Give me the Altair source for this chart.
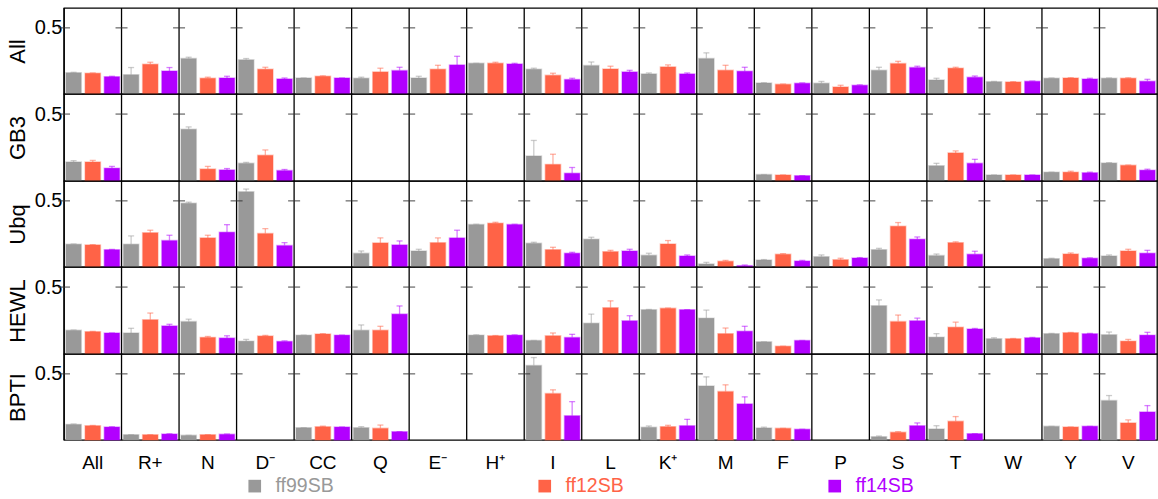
import altair as alt
import pandas as pd

residues = ["All", "R+", "N", "D⁻", "CC", "Q", "E⁻", "H⁺", "I", "L", "K⁺",
            "M", "F", "P", "S", "T", "W", "Y", "V"]
proteins = ["All", "GB3", "Ubq", "HEWL", "BPTI"]
forcefields = ["ff99SB", "ff12SB", "ff14SB"]
colors = ["#999999", "#ff6347", "#b200ff"]
N = None

# ---- row "All"
all_ff99 = [0.161, 0.146, 0.268, 0.258, 0.121, 0.119, 0.121, 0.232, 0.187, 0.215, 0.152, 0.268, 0.083, 0.081, 0.179, 0.106, 0.093, 0.119, 0.119]
all_ff99_err = [0.003, 0.054, 0.010, 0.010, 0.0, 0.008, 0.013, 0.0, 0.008, 0.027, 0.007, 0.043, 0.002, 0.014, 0.023, 0.013, 0.002, 0.002, 0.002]
all_ff12 = [0.157, 0.225, 0.119, 0.187, 0.134, 0.167, 0.187, 0.232, 0.141, 0.189, 0.205, 0.179, 0.073, 0.053, 0.230, 0.195, 0.091, 0.121, 0.119]
all_ff12_err = [0.002, 0.015, 0.008, 0.015, 0.003, 0.028, 0.030, 0.008, 0.016, 0.021, 0.015, 0.038, 0.002, 0.013, 0.017, 0.007, 0.002, 0.002, 0.003]
all_ff14 = [0.131, 0.174, 0.121, 0.114, 0.121, 0.177, 0.220, 0.227, 0.109, 0.167, 0.152, 0.172, 0.081, 0.066, 0.200, 0.126, 0.096, 0.114, 0.096]
all_ff14_err = [0.003, 0.026, 0.013, 0.007, 0.0, 0.025, 0.065, 0.005, 0.010, 0.012, 0.007, 0.030, 0.003, 0.003, 0.010, 0.010, 0.002, 0.005, 0.015]

# ---- row "GB3"
gb3_ff99 = [0.142, N, 0.386, 0.132, N, N, N, N, 0.187, N, N, N, 0.048, N, N, 0.114, 0.045, 0.066, 0.134]
gb3_ff99_err = [0.010, N, 0.018, 0.007, N, N, N, N, 0.116, N, N, N, 0.0, N, N, 0.018, 0.0, 0.0, 0.003]
gb3_ff12 = [0.142, N, 0.089, 0.192, N, N, N, N, 0.124, N, N, N, 0.045, N, N, 0.210, 0.045, 0.066, 0.117]
gb3_ff12_err = [0.012, N, 0.020, 0.040, N, N, N, N, 0.076, N, N, N, 0.0, N, N, 0.015, 0.0, 0.007, 0.002]
gb3_ff14 = [0.096, N, 0.083, 0.078, N, N, N, N, 0.058, N, N, N, 0.040, N, N, 0.132, 0.045, 0.061, 0.081]
gb3_ff14_err = [0.013, N, 0.010, 0.008, N, N, N, N, 0.043, N, N, N, 0.0, N, N, 0.030, 0.0, 0.005, 0.007]

# ---- row "Ubq"
ubq_ff99 = [0.172, 0.172, 0.482, 0.568, N, 0.103, 0.121, 0.321, 0.179, 0.210, 0.088, 0.023, 0.053, 0.078, 0.131, 0.086, N, 0.063, 0.083]
ubq_ff99_err = [0.002, 0.063, 0.008, 0.021, N, 0.018, 0.013, 0.002, 0.008, 0.015, 0.016, 0.012, 0.003, 0.013, 0.010, 0.012, N, 0.003, 0.008]
ubq_ff12 = [0.167, 0.258, 0.220, 0.253, N, 0.182, 0.184, 0.331, 0.131, 0.116, 0.174, 0.043, 0.096, 0.055, 0.308, 0.184, N, 0.098, 0.121]
ubq_ff12_err = [0.002, 0.020, 0.020, 0.037, N, 0.038, 0.036, 0.007, 0.018, 0.010, 0.026, 0.007, 0.005, 0.011, 0.028, 0.006, N, 0.008, 0.013]
ubq_ff14 = [0.131, 0.200, 0.263, 0.162, N, 0.167, 0.220, 0.321, 0.104, 0.121, 0.083, 0.010, 0.045, 0.068, 0.210, 0.096, N, 0.066, 0.104]
ubq_ff14_err = [0.002, 0.040, 0.057, 0.022, N, 0.030, 0.058, 0.002, 0.007, 0.013, 0.008, 0.005, 0.005, 0.003, 0.017, 0.023, N, 0.003, 0.022]

# ---- row "HEWL"
hewl_ff99 = [0.177, 0.157, 0.242, 0.096, 0.141, 0.177, N, 0.141, 0.101, 0.230, 0.331, 0.268, 0.091, N, 0.361, 0.126, 0.114, 0.152, 0.144]
hewl_ff99_err = [0.002, 0.035, 0.018, 0.013, 0.0, 0.040, N, 0.002, 0.0, 0.068, 0.002, 0.060, 0.0, N, 0.043, 0.026, 0.007, 0.002, 0.020]
hewl_ff12 = [0.167, 0.255, 0.124, 0.134, 0.149, 0.177, N, 0.136, 0.136, 0.346, 0.341, 0.152, 0.058, N, 0.242, 0.200, 0.114, 0.159, 0.096]
hewl_ff12_err = [0.002, 0.051, 0.007, 0.005, 0.003, 0.030, N, 0.002, 0.021, 0.051, 0.002, 0.042, 0.0, N, 0.049, 0.038, 0.002, 0.002, 0.013]
hewl_ff14 = [0.157, 0.210, 0.119, 0.094, 0.141, 0.298, N, 0.141, 0.124, 0.248, 0.331, 0.170, 0.101, N, 0.248, 0.187, 0.121, 0.152, 0.141]
hewl_ff14_err = [0.0, 0.012, 0.017, 0.004, 0.0, 0.061, N, 0.002, 0.023, 0.038, 0.0, 0.037, 0.0, N, 0.020, 0.004, 0.003, 0.002, 0.021]

# ---- row "BPTI"
bpti_ff99 = [0.118, 0.040, 0.035, N, 0.093, 0.093, N, N, 0.563, N, 0.096, 0.409, 0.091, N, 0.025, 0.083, N, 0.103, 0.298]
bpti_ff99_err = [0.003, 0.0, 0.0, N, 0.0, 0.008, N, N, 0.060, N, 0.010, 0.068, 0.006, N, 0.005, 0.025, N, 0.0, 0.038]
bpti_ff12 = [0.108, 0.040, 0.040, N, 0.101, 0.088, N, N, 0.351, N, 0.101, 0.366, 0.088, N, 0.058, 0.141, N, 0.098, 0.129]
bpti_ff12_err = [0.002, 0.0, 0.0, N, 0.003, 0.025, N, N, 0.028, N, 0.010, 0.051, 0.0, N, 0.005, 0.036, N, 0.0, 0.023]
bpti_ff14 = [0.098, 0.045, 0.043, N, 0.098, 0.063, N, N, 0.184, N, 0.108, 0.273, 0.081, N, 0.108, 0.048, N, 0.103, 0.212]
bpti_ff14_err = [0.002, 0.002, 0.002, N, 0.0, 0.0, N, N, 0.106, N, 0.048, 0.053, 0.0, N, 0.021, 0.0, N, 0.0, 0.048]

table = {
    "All": [(all_ff99, all_ff99_err), (all_ff12, all_ff12_err), (all_ff14, all_ff14_err)],
    "GB3": [(gb3_ff99, gb3_ff99_err), (gb3_ff12, gb3_ff12_err), (gb3_ff14, gb3_ff14_err)],
    "Ubq": [(ubq_ff99, ubq_ff99_err), (ubq_ff12, ubq_ff12_err), (ubq_ff14, ubq_ff14_err)],
    "HEWL": [(hewl_ff99, hewl_ff99_err), (hewl_ff12, hewl_ff12_err), (hewl_ff14, hewl_ff14_err)],
    "BPTI": [(bpti_ff99, bpti_ff99_err), (bpti_ff12, bpti_ff12_err), (bpti_ff14, bpti_ff14_err)],
}

records = []
for p in proteins:
    for ff, (vals, errs) in zip(forcefields, table[p]):
        for aa, v, e in zip(residues, vals, errs):
            if v is None:
                continue
            records.append({"protein": p, "aa": aa, "ff": ff, "value": v, "upper": v + e})
df = pd.DataFrame(records)
sep = pd.DataFrame({"aa": residues, "tick": [0.5] * len(residues)})

FONT = "Liberation Sans"
W = 1093
BAND = W / len(residues)
heights = [86, 87, 86, 87, 86]

label_color_expr = ("datum.value == '%s' ? '%s' : (datum.value == '%s' ? '%s' : '%s')"
                    % (forcefields[0], colors[0], forcefields[1], colors[1], colors[2]))
legend = alt.Legend(
    title=None, orient="none", legendX=181, legendY=468, direction="horizontal",
    symbolType="square", symbolSize=160, symbolStrokeWidth=0, symbolOpacity=1,
    labelFontSize=19.5, labelFont=FONT, columnPadding=201, labelOffset=11,
    labelColor={"expr": label_color_expr},
)
color_scale = alt.Scale(domain=forcefields, range=colors)


def row_chart(i, p):
    d = df[df["protein"] == p]
    last = i == len(proteins) - 1
    if last:
        x_axis = alt.Axis(title=None, labelFontSize=19, labelFont=FONT, labelColor="black",
                          labelPadding=13, ticks=False, tickSize=0, domain=False,
                          labelAngle=0, grid=False)
    else:
        x_axis = None
    xsc = alt.Scale(domain=residues, paddingInner=0, paddingOuter=0)
    x = alt.X("aa:N", sort=residues, scale=xsc, axis=x_axis)
    y_axis = alt.Axis(values=[0.5], format=".1f", title=p, titleFontSize=22,
                      titleFont=FONT, titleFontWeight="normal", titleColor="black",
                      titlePadding=5, labelFontSize=20, labelFont=FONT,
                      labelColor="black", labelPadding=2, ticks=False, tickSize=0,
                      domain=False, grid=False)
    ysc = alt.Scale(domain=[0, 0.65], nice=False, zero=True)
    xoff = alt.XOffset("ff:N", sort=forcefields,
                       scale=alt.Scale(domain=forcefields, paddingInner=0.2, paddingOuter=0.1))
    col = alt.Color("ff:N", sort=forcefields, scale=color_scale, legend=legend)
    base = alt.Chart(d)
    bars = base.mark_bar(strokeWidth=1.5, strokeOpacity=0.35).encode(
        x=x, xOffset=xoff,
        y=alt.Y("value:Q", scale=ysc, axis=y_axis),
        color=col,
        stroke=alt.Stroke("ff:N", sort=forcefields, scale=color_scale, legend=None),
    )
    rules = base.mark_rule(strokeWidth=1.3, opacity=0.5).encode(
        x=x, xOffset=xoff,
        y=alt.Y("value:Q", scale=ysc, axis=y_axis), y2="upper:Q",
        color=col,
    )
    caps = base.mark_tick(size=6, thickness=1.3, opacity=0.5).encode(
        x=x, xOffset=xoff,
        y=alt.Y("upper:Q", scale=ysc, axis=y_axis),
        color=col,
    )
    seps = alt.Chart(sep).mark_rule(color="black", strokeWidth=1.3).encode(
        x=alt.X("aa:N", sort=residues, scale=xsc, axis=x_axis, bandPosition=0),
    )
    ticks = alt.Chart(sep).mark_tick(color="#333333", size=12, thickness=1.3,
                                     xOffset=-BAND / 2).encode(
        x=alt.X("aa:N", sort=residues, scale=xsc, axis=x_axis),
        y=alt.Y("tick:Q", scale=ysc, axis=y_axis),
    )
    return alt.layer(bars, rules, caps, seps, ticks).properties(width=W, height=heights[i])


chart = alt.vconcat(*[row_chart(i, p) for i, p in enumerate(proteins)],
                    spacing=0, bounds="flush").resolve_scale(
    color="shared", stroke="shared"
).properties(
    padding={"left": 5, "top": 6, "right": 0, "bottom": 5}
).configure(font=FONT).configure_view(stroke="black", strokeWidth=1.3)

chart.save("out.html", embed_options={"renderer": "svg", "actions": False})
